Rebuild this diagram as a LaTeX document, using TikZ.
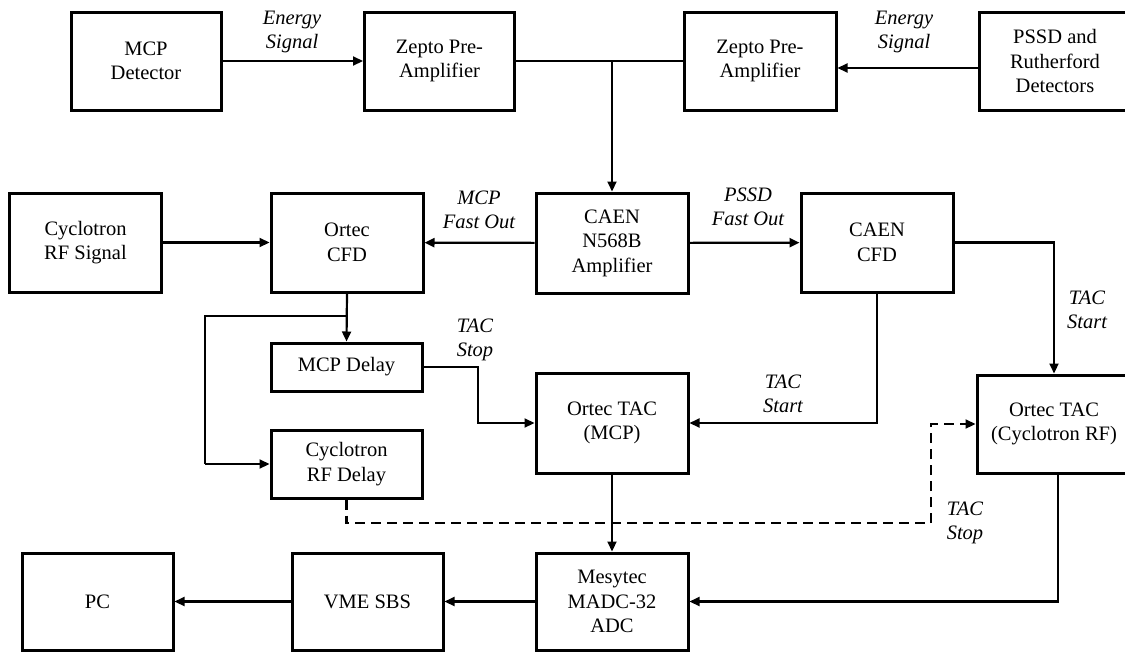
\documentclass[tikz,border=0pt]{standalone}
\usepackage{fontspec}
\setmainfont{Liberation Serif}
\usetikzlibrary{arrows.meta,calc}
\begin{document}
\begin{tikzpicture}[x=1pt,y=-1pt,
  box/.style={draw, line width=3pt, align=center, inner sep=0pt, font=\fontsize{20.5}{24.5}\selectfont},
  conn/.style={line width=2.2pt, -{Triangle[length=10pt,width=9pt]}},
  plain/.style={line width=2.2pt},
  dashline/.style={dash pattern=on 10pt off 6pt},
  lbl/.style={align=center, inner sep=0pt, font=\fontsize{20.5}{23.5}\selectfont\itshape}]
\useasboundingbox (0,0) rectangle (1125,653);
% row 1
\node[box, minimum width=150pt, minimum height=98pt] (mcp) at (146,61) {MCP\\Detector};
\node[box, minimum width=150pt, minimum height=98pt] (z1) at (439.5,61) {Zepto Pre-\\Amplifier};
\node[box, minimum width=152pt, minimum height=98pt] (z2) at (760,61) {Zepto Pre-\\Amplifier};
\node[box, minimum width=152pt, minimum height=98pt] (pssd) at (1055,61) {PSSD and\\Rutherford\\Detectors};
% row 2
\node[box, minimum width=152pt, minimum height=99pt] (cyc) at (85.5,242.5) {Cyclotron\\RF Signal};
\node[box, minimum width=152pt, minimum height=99pt] (ocfd) at (347,242.5) {Ortec\\CFD};
\node[box, minimum width=152pt, minimum height=100pt] (amp) at (612,243) {CAEN\\N568B\\Amplifier};
\node[box, minimum width=152pt, minimum height=99pt] (ccfd) at (877,242.5) {CAEN\\CFD};
% row 3
\node[box, minimum width=151pt, minimum height=48pt] (mcpd) at (346.5,367) {MCP Delay};
\node[box, minimum width=151pt, minimum height=68pt] (cycd) at (346.5,464) {Cyclotron\\RF Delay};
\node[box, minimum width=152pt, minimum height=100pt] (tacm) at (612,423) {Ortec TAC\\(MCP)};
\node[box, minimum width=154pt, minimum height=98pt] (tacc) at (1054,424) {Ortec TAC\\(Cyclotron RF)};
% row 4
\node[box, minimum width=151pt, minimum height=97pt] (pc) at (97.5,601.5) {PC};
\node[box, minimum width=151pt, minimum height=97pt] (vme) at (367.5,601.5) {VME SBS};
\node[box, minimum width=152pt, minimum height=97pt] (adc) at (612,601.5) {Mesytec\\MADC-32\\ADC};
% coordinates
\coordinate (j) at (612,61);
\coordinate (b1) at (347,316);
\coordinate (b2) at (205,316);
\coordinate (b3) at (205,464);
\coordinate (k1) at (478,400);
\coordinate (k2) at (931,523);
\coordinate (t1) at (1058,473);
% connectors
\draw[conn] (mcp) -- (z1);
\draw[plain] (z1.east) -- (j) -- (z2.west);
\draw[conn] (j) -- (amp.north);
\draw[conn] ([yshift=-7pt]pssd.west) -- ([yshift=-7pt]z2.east);
\draw[conn] (cyc) -- (ocfd);
\draw[conn] (amp) -- (ocfd);
\draw[conn] (amp) -- (ccfd);
\draw[conn] (ccfd.east) -| (tacc.north);
\draw[conn] (ocfd.south) -- (mcpd.north);
\draw[plain] (b1) -- (b2) -- (b3);
\draw[conn] (b3) -- (cycd.west);
\draw[conn] (mcpd.east) -| (k1) |- (tacm.west);
\draw[conn] (ccfd.south) |- (tacm.east);
\draw[conn, dashline] (cycd.south) |- (k2) |- (tacc.west);
\draw[conn] (tacm) -- (adc);
\draw[conn] (t1) |- (adc.east);
\draw[conn] (adc) -- (vme);
\draw[conn] (vme) -- (pc);
% labels
\node[lbl] (l1) at (292,32) {Energy\\Signal};
\node[lbl] (l2) at (904,32) {Energy\\Signal};
\node[lbl] (l3) at (479,210) {MCP\\Fast Out};
\node[lbl] (l4) at (748,207) {PSSD\\Fast Out};
\node[lbl] (l5) at (1087,310) {TAC\\Start};
\node[lbl] (l6) at (475,340) {TAC\\Stop};
\node[lbl] (l7) at (783,394) {TAC\\Start};
\node[lbl] (l8) at (965,523) {TAC\\Stop};
\end{tikzpicture}
\end{document}
